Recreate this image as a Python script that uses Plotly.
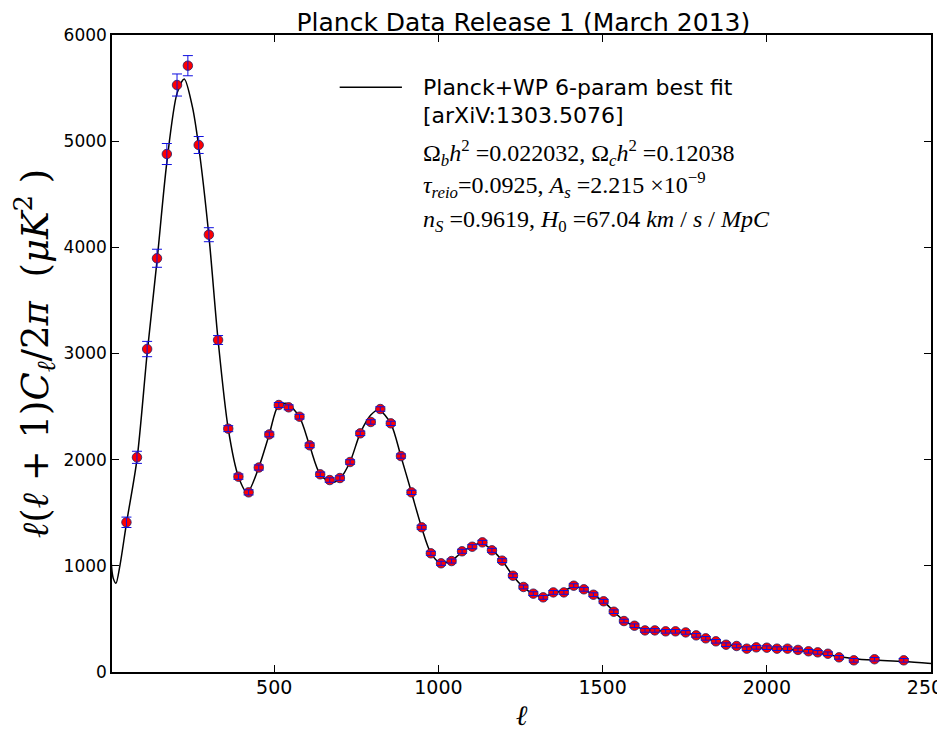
import plotly.graph_objects as go

# Binned Planck data points
ell_data = [50, 82, 113, 143, 173, 204, 237, 270, 301, 329, 360, 391, 422, 453, 485,
            514, 544, 577, 608, 640, 669, 700, 731, 762, 794, 823, 855, 886, 918, 949,
            977, 1008, 1040, 1072, 1103, 1134, 1163, 1194, 1227, 1259, 1289, 1319, 1350,
            1382, 1412, 1443, 1472, 1503, 1534, 1565, 1597, 1629, 1659, 1692, 1722, 1753,
            1785, 1814, 1845, 1876, 1908, 1939, 1968, 2000, 2031, 2063, 2095, 2127, 2155,
            2186, 2220, 2265, 2328, 2417]
dl_data = [1410, 2022, 3042, 3897, 4879, 5529, 5711, 4964, 4119, 3127, 2292, 1840, 1692,
           1926, 2238, 2515, 2493, 2405, 2135, 1862, 1808, 1827, 1978, 2248, 2355, 2477,
           2342, 2034, 1692, 1363, 1118, 1024, 1045, 1137, 1180, 1221, 1146, 1049, 907,
           801, 738, 703, 750, 750, 813, 779, 728, 666, 568, 480, 436, 392, 392, 383, 383,
           373, 345, 317, 289, 257, 245, 220, 232, 229, 220, 220, 208, 195, 185, 172, 138,
           110, 120, 110]
dl_err = [49, 57, 72, 85, 99, 104, 95, 80, 66, 42, 28, 25, 24, 24, 23, 23, 23, 22, 22, 21,
          21, 21, 21, 21, 21, 21, 20, 20, 20, 19, 19, 19, 19, 19, 19, 19, 19, 18, 18, 18,
          18, 18, 18, 18, 18, 18, 18, 18, 17, 17, 17, 17, 17, 17, 17, 17, 17, 17, 17, 17,
          17, 17, 17, 17, 17, 17, 17, 17, 17, 17, 17, 17, 17, 17]

# Best-fit curve
ell_fit = [2, 6, 10, 18, 30, 50, 82, 113, 143, 173, 204, 226, 251, 270, 301, 329, 360, 391,
           418, 453, 485, 512, 538, 577, 608, 640, 675, 700, 731, 762, 794, 818, 855, 886,
           918, 949, 977, 1005, 1040, 1072, 1103, 1130, 1163, 1194, 1227, 1259, 1289, 1319,
           1350, 1382, 1418, 1443, 1472, 1503, 1534, 1565, 1597, 1629, 1660, 1690, 1722,
           1753, 1785, 1814, 1845, 1876, 1908, 1939, 1968, 2000, 2031, 2063, 2093, 2127,
           2155, 2186, 2220, 2265, 2324, 2417, 2500]
dl_fit = [1100, 950, 880, 835, 1000, 1400, 2000, 3000, 3870, 4800, 5450, 5585, 5320, 4950,
          4110, 3127, 2290, 1840, 1690, 1928, 2240, 2505, 2530, 2400, 2130, 1860, 1785,
          1820, 1980, 2250, 2420, 2470, 2340, 2030, 1690, 1360, 1120, 1030, 1050, 1130,
          1185, 1215, 1150, 1050, 905, 800, 735, 712, 740, 770, 800, 780, 725, 665, 570,
          485, 435, 400, 390, 385, 380, 370, 345, 318, 290, 262, 245, 230, 228, 225, 220,
          215, 205, 192, 180, 165, 145, 125, 112, 100, 80]

x_ticks = [500, 1000, 1500, 2000, 2500]
y_ticks = [0, 1000, 2000, 3000, 4000, 5000, 6000]

fig = go.Figure()
fig.add_trace(go.Scatter(x=ell_fit, y=dl_fit, mode="lines",
                         line=dict(color="black", width=1.5, shape="spline", smoothing=0.8),
                         showlegend=False, hoverinfo="skip"))
fig.add_trace(go.Scatter(x=ell_data, y=dl_data, mode="markers",
                         marker=dict(color="red", size=9.5, line=dict(color="#20206a", width=0.8)),
                         showlegend=False))
fig.add_trace(go.Scatter(x=ell_data, y=dl_data, mode="markers",
                         marker=dict(size=9, opacity=0),
                         error_y=dict(type="data", array=dl_err, color="#1010e0",
                                      thickness=1, width=5),
                         showlegend=False, hoverinfo="skip"))

axis_common = dict(showgrid=False, zeroline=False, showline=True, linecolor="black",
                   linewidth=1.5, mirror="allticks", ticks="inside", ticklen=7,
                   tickcolor="black", tickwidth=1, automargin=False,
                   ticklabeloverflow="allow")

fig.update_xaxes(range=[6, 2500], tickvals=x_ticks, ticktext=[str(v) for v in x_ticks],
                 tickfont=dict(family="DejaVu Sans", size=19, color="black"),
                 ticklabelstandoff=-3,
                 title=dict(text="<i>ℓ</i>", font=dict(family="DejaVu Serif", size=28,
                                                      color="black"), standoff=9),
                 **axis_common)
fig.update_yaxes(range=[0, 6000], tickvals=y_ticks, ticktext=[str(v) for v in y_ticks],
                 tickfont=dict(family="DejaVu Sans", size=17, color="black"),
                 title=dict(text="<i>ℓ</i>(<i>ℓ</i> + 1)<i>C</i><sub><i>ℓ</i></sub>/2<i>π</i>  (<i>μK</i><sup>2</sup> )",
                            font=dict(family="DejaVu Serif", size=37, color="black"),
                            standoff=20),
                 **axis_common)

# Legend key (drawn manually to match sample length)
fig.add_shape(type="line", xref="paper", yref="paper", x0=0.278, x1=0.354, y0=0.918, y1=0.918,
              line=dict(color="black", width=1.5))

sans = dict(family="DejaVu Sans", size=22, color="black")
serif = dict(family="Liberation Serif", size=24, color="black")
legend_lines = [
    ("Planck+WP 6-param best fit", 0.918, sans),
    ("[arXiV:1303.5076]", 0.874, sans),
    ("Ω<sub><i>b</i></sub><i>h</i><sup>2</sup> =0.022032, Ω<sub><i>c</i></sub><i>h</i><sup>2</sup> =0.12038", 0.815, serif),
    ("<i>τ</i><sub><i>reio</i></sub>=0.0925, <i>A</i><sub><i>s</i></sub> =2.215 ×10<sup>−9</sup>", 0.765, serif),
    ("<i>n</i><sub><i>S</i></sub> =0.9619, <i>H</i><sub>0</sub> =67.04 <i>km</i> / <i>s</i> / <i>MpC</i>", 0.708, serif),
]
for txt, yy, f in legend_lines:
    fig.add_annotation(text=txt, xref="paper", yref="paper", x=0.377, y=yy,
                       xanchor="left", yanchor="middle", showarrow=False, font=f)

fig.update_layout(
    width=937, height=726,
    margin=dict(l=104, r=14, t=27, b=62),
    paper_bgcolor="white", plot_bgcolor="white",
    title=dict(text="Planck Data Release 1 (March 2013)", x=0.55, xanchor="center",
               y=0.981, yanchor="middle", automargin=False,
               font=dict(family="DejaVu Sans", size=25, color="black")),
)

fig.write_html("out.html")
